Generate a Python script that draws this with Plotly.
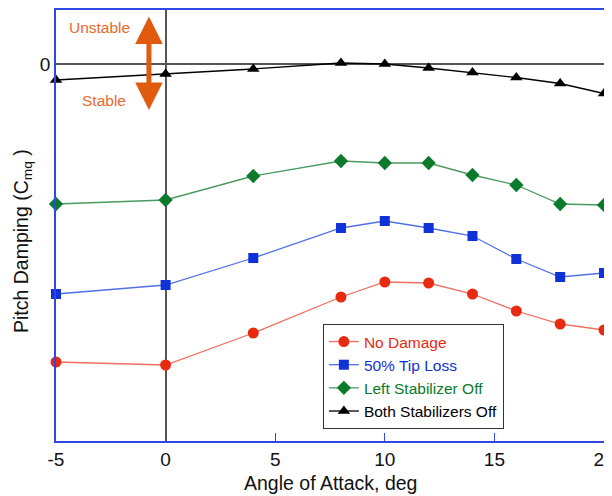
import plotly.graph_objects as go

# Angle of attack (deg)
alpha = [-5, 0, 4, 8, 10, 12, 14, 16, 18, 20]

# Pitch damping values (arbitrary units; 0 = neutral)
no_damage = [-29.8, -30.1, -26.9, -23.3, -21.8, -21.9, -23.0, -24.7, -26.0, -26.6]
tip_loss = [-23.0, -22.1, -19.4, -16.4, -15.7, -16.4, -17.2, -19.5, -21.3, -20.9]
left_stab_off = [-14.0, -13.6, -11.2, -9.7, -9.9, -9.9, -11.1, -12.1, -14.0, -14.1]
both_stab_off = [-1.6, -1.0, -0.5, 0.1, 0.0, -0.4, -0.85, -1.35, -1.95, -2.95]

x_ticks = [-5, 0, 5, 10, 15, 20]
y_ticks = [0]

series = [
    ("No Damage", no_damage, "#E82A10", "#F07060", "circle", 11),
    ("50% Tip Loss", tip_loss, "#1030D8", "#5070E8", "square", 10),
    ("Left Stabilizer Off", left_stab_off, "#0B7A2A", "#4A9A60", "diamond", 11),
    ("Both Stabilizers Off", both_stab_off, "#000000", "#000000", "triangle-up", 11),
]

fig = go.Figure()
for name, vals, mcol, lcol, sym, size in series:
    fig.add_trace(go.Scatter(
        x=alpha, y=vals, mode="lines+markers",
        name=f"<span style='color:{mcol}'>{name}</span>",
        line=dict(color=lcol, width=1.3),
        marker=dict(color=mcol, symbol=sym, size=size),
        cliponaxis=False,
    ))

font_family = "Liberation Sans, Arial, sans-serif"
frame_col = "#2E48E6"
text_col = "#111111"

# The page body adds an 8px offset at left/top, so the figure is 8px smaller
fig.update_layout(
    width=604, height=488,
    margin=dict(l=48, r=8, t=2, b=55, autoexpand=False),
    paper_bgcolor="white", plot_bgcolor="white",
    font=dict(family=font_family, color=text_col),
    showlegend=True,
    legend=dict(
        x=0.487, y=0.2715, xanchor="left", yanchor="top",
        bordercolor="#333333", borderwidth=1, bgcolor="white",
        font=dict(size=15.5, family=font_family),
        tracegroupgap=0, itemwidth=30,
    ),
    xaxis=dict(
        range=[-5, 20], tickvals=x_ticks, ticktext=[str(v) for v in x_ticks],
        automargin=False, ticklabeloverflow="allow",
        showgrid=False, zeroline=True, zerolinecolor="#555555", zerolinewidth=2,
        showline=True, linecolor=frame_col, linewidth=1.5, mirror=True,
        ticks="inside", ticklen=8, tickcolor=frame_col, tickwidth=1.2,
        tickfont=dict(size=19, color=text_col),
    ),
    yaxis=dict(
        range=[-37.7, 5.4], tickvals=y_ticks, ticktext=["0"],
        automargin=False,
        showgrid=False, zeroline=True, zerolinecolor="#555555", zerolinewidth=1.5,
        showline=True, linecolor=frame_col, linewidth=1.5, mirror=True,
        ticks="", tickfont=dict(size=19, color=text_col),
    ),
)

# Axis titles
fig.add_annotation(x=0.5, y=-0.0974, xref="paper", yref="paper", yanchor="middle",
                   text="Angle of Attack, deg", showarrow=False,
                   font=dict(size=19.5, color=text_col, family=font_family))
fig.add_annotation(x=-0.062, y=0.464, xref="paper", yref="paper", xanchor="center",
                   yanchor="middle",
                   text="Pitch Damping (C<sub>mq</sub> )", showarrow=False, textangle=-90,
                   font=dict(size=19.5, color=text_col, family=font_family))

# Stability arrow and labels
orange = "#E05A10"
fig.add_annotation(
    x=-0.76, y=-4.6, ax=-0.76, ay=4.9, xref="x", yref="y", axref="x", ayref="y",
    text="", showarrow=True, arrowhead=2, startarrowhead=2, arrowside="end+start",
    arrowwidth=5, arrowsize=1.1, startarrowsize=1.1, arrowcolor=orange,
)
fig.add_annotation(x=-3.0, y=3.7, xref="x", yref="y", text="Unstable", showarrow=False,
                   font=dict(size=15.5, color="#E8692E", family=font_family))
fig.add_annotation(x=-2.8, y=-3.6, xref="x", yref="y", text="Stable", showarrow=False,
                   font=dict(size=15.5, color="#E8692E", family=font_family))

fig.write_html("out.html")
